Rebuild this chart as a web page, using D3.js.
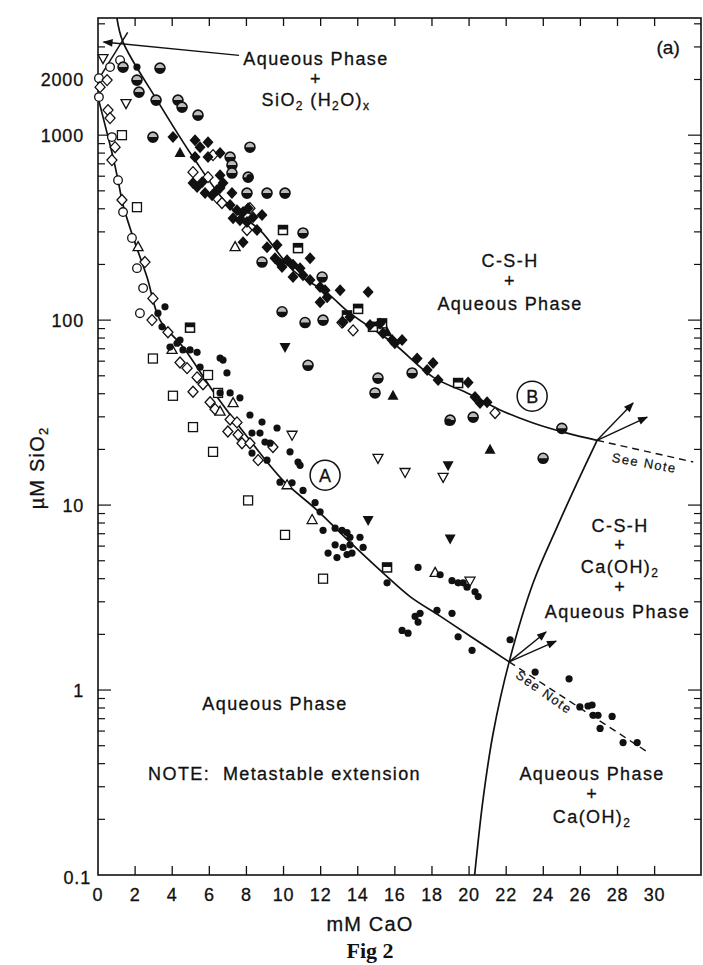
<!DOCTYPE html>
<html>
<head>
<meta charset="utf-8">
<script src="https://cdnjs.cloudflare.com/ajax/libs/d3/7.8.5/d3.min.js"></script>
<style>
body { margin: 0; background: #fff; }
text { font-family: "Liberation Sans", Arial, sans-serif; fill: #111; stroke: #111; stroke-width: 0.3px; }
</style>
</head>
<body>
<div id="chart"></div>
<script>
// phase boundaries, [mM CaO, uM SiO2]
const curveA = [[0, 1600], [0.49, 1026], [0.81, 761], [1.08, 571], [1.35, 419], [1.89, 281], [2.64, 171],
    [3.34, 100], [4.58, 71.5], [6.42, 38.4], [8.19, 22.4], [9.97, 13.6], [11.8, 9.4], [13.58, 6.3],
    [15.36, 4.3], [16.82, 3.2], [18.44, 2.51], [20.05, 1.96], [22.16, 1.42]];
const curveAext = [[22.16, 1.42], [29.65, 0.46]];
const curveB = [[1.02, 4295], [1.35, 3184], [3.18, 1547], [5.12, 761], [7.12, 408], [8.73, 307], [10.51, 186],
    [12.35, 140], [13.58, 109], [15.9, 75.2], [18.06, 49.2], [19.89, 40.4], [21.67, 32.7], [23.45, 27.8],
    [25.28, 24.5], [26.9, 22.4]];
const curveBext = [[26.9, 22.4], [32.08, 17.1]];
const curveCH = [[20.3, 0.1], [20.75, 0.255], [21.3, 0.586], [22.16, 1.42], [23.45, 3.79], [24.74, 7.6],
    [25.82, 13.2], [26.9, 22.4]];
const silicaLine = [[0, 1985], [1.6, 3600]];
const arrowsB = [[[26.9, 22.4], [28.84, 35.6]], [[26.9, 22.4], [29.6, 29.9]]];
const arrowsA = [[[22.16, 1.42], [24.15, 2.06]], [[22.16, 1.42], [24.69, 1.84]]];
const leader = [[7.6, 2700], [0.3, 3190]];

// measured points, by symbol
const dots = [[3.23, 109], [3.61, 118], [3.45, 92], [3.88, 71.5], [4.42, 78], [4.58, 69], [4.96, 69], [5.34, 67],
    [5.5, 55.7], [4.26, 75], [6.58, 62.4], [6.74, 60.8], [6.95, 51.8], [7.12, 40.4], [7.65, 38], [6.58, 40.4],
    [8.19, 30.7], [8.84, 28.1], [8.3, 24.5], [8.73, 24.5], [9.0, 21.9], [9.27, 21.6], [9.65, 26.1], [8.3, 19.1],
    [9.11, 17.5], [10.35, 19.4], [10.78, 17.1], [10.89, 16.4], [9.81, 13.3], [10.46, 13.2], [11.05, 12.0],
    [11.7, 10.3], [11.97, 9.2], [12.13, 7.3], [12.78, 7.5], [13.15, 7.3], [13.42, 7.1], [13.58, 6.7], [14.12, 6.7],
    [12.78, 6.1], [13.21, 5.9], [13.58, 6.1], [14.29, 5.9], [12.4, 5.5], [12.88, 5.2], [13.42, 5.4], [13.69, 5.5],
    [17.25, 4.6], [18.44, 4.2], [15.58, 3.8], [18.87, 28.1], [19.08, 3.9], [19.41, 3.8], [19.68, 3.8], [20.32, 3.4],
    [20.49, 3.2], [19.89, 3.6], [18.27, 2.7], [19.08, 2.6], [17.09, 2.5], [17.25, 2.33], [17.36, 2.6], [16.39, 2.1],
    [16.71, 2.03], [19.41, 1.94], [20.16, 1.64], [22.21, 1.87], [23.56, 1.25], [25.39, 1.15], [25.97, 0.81],
    [26.41, 0.82], [26.63, 0.83], [26.68, 0.73], [26.95, 0.73], [27.71, 0.72], [27.06, 0.62], [28.3, 0.52],
    [29.06, 0.52], [8.19, 590], [2.1, 2333]];
const halfCircles = [[1.35, 2333], [3.34, 2304], [2.1, 1985], [2.21, 1709], [3.13, 1547], [4.31, 1547], [4.53, 1418],
    [5.39, 1283], [2.96, 976], [7.12, 761], [7.22, 689], [7.22, 624], [8.09, 593], [8.03, 486], [9.11, 486],
    [10.08, 486], [11.05, 296], [8.84, 206], [12.08, 171], [9.92, 111], [11.16, 97], [12.13, 100], [11.32, 57],
    [15.09, 48.6], [14.93, 40.4], [16.93, 51.8], [18.98, 28.8], [20.22, 29.9], [23.99, 17.9], [25.0, 26], [8.19, 861]];
const filledDiamonds = [[5.12, 551], [6.58, 608], [6.74, 551], [6.58, 518], [5.77, 486], [6.15, 474], [7.22, 486],
    [7.12, 419], [7.49, 393], [7.82, 384], [8.09, 403], [7.28, 356], [7.65, 347], [8.03, 339], [8.36, 360],
    [8.84, 370], [8.57, 307], [7.82, 264], [9.11, 248], [9.65, 255], [9.54, 216], [9.81, 203], [10.19, 211],
    [11.43, 216], [9.92, 194], [10.51, 199], [10.89, 191], [10.51, 171], [11.05, 175], [11.43, 165], [11.97, 151],
    [12.24, 145], [12.35, 133], [11.97, 125], [13.05, 145], [14.56, 142], [13.21, 97.5], [13.58, 104], [14.66, 94],
    [15.2, 96], [15.36, 85], [15.85, 78], [16.39, 78], [16.0, 75], [17.2, 62], [18.06, 58.6], [17.74, 53.7],
    [18.33, 47.4], [19.95, 46], [20.32, 38.4], [20.59, 35.6], [20.97, 36], [5.93, 917], [6.58, 800], [5.23, 940],
    [5.5, 861], [4.04, 976], [5.61, 557], [5.34, 524], [6.42, 505], [5.23, 761], [5.93, 761]];
const openDiamonds = [[0.75, 733], [1.29, 446], [2.53, 206], [2.96, 131], [2.91, 100], [3.77, 86], [4.42, 59],
    [4.8, 55], [5.34, 49], [5.12, 41], [5.66, 45], [6.04, 36], [6.31, 33], [7.12, 29], [7.49, 28], [7.0, 25],
    [7.55, 24], [7.76, 21.6], [8.19, 21.6], [8.63, 17.5], [9.43, 20.6], [0.49, 1985], [0.54, 1366], [0.11, 1818],
    [0.65, 1237], [0.92, 861], [6.2, 780], [5.12, 631], [5.93, 593], [6.42, 457], [6.68, 430], [8.03, 307],
    [8.19, 403], [13.15, 97], [13.75, 88], [21.4, 31.5]];
const openCircles = [[1.08, 571], [1.35, 384], [1.83, 278], [2.1, 191], [2.43, 149], [2.26, 109], [0.05, 2034],
    [0.05, 1606], [0.75, 976], [0.65, 2333], [1.19, 2545]];
const openSquares = [[1.29, 1000], [2.1, 408], [2.96, 62], [4.04, 39], [5.12, 26.4], [6.2, 19.4], [8.09, 10.6],
    [10.08, 6.9], [12.13, 4.0], [5.93, 50.5], [6.47, 40.4]];
const dotSquares = [[4.96, 91], [9.97, 307], [10.78, 245], [13.42, 106], [14.02, 115], [14.82, 92], [15.31, 96],
    [15.58, 4.6], [19.41, 45.7]];
const openTriUp = [[2.16, 248], [3.99, 69], [7.39, 248], [7.28, 35.6], [10.19, 12.8], [11.54, 8.3], [18.17, 4.3], [6.58, 32]];
const filledTriUp = [[4.42, 800], [15.58, 86], [15.9, 39], [21.13, 19.9]];
const openTriDown = [[0.27, 2609], [1.51, 1490], [10.46, 24], [15.09, 18], [16.55, 15.1], [18.6, 14.2], [20.05, 3.9]];
const filledTriDown = [[10.08, 71.5], [18.87, 16.4], [14.56, 8.3], [18.98, 6.6]];

// axes
const xTicks = d3.range(0, 31, 2);
const yLabels = [0.1, 1, 10, 100, 1000, 2000];
const xDomain = [0, 32.5];
const yDomain = [0.1, 4300];

const width = 703, height = 965;
const ink = "#111";

const svg = d3.select("#chart").append("svg")
    .attr("width", width)
    .attr("height", height);

const x = d3.scaleLinear().domain(xDomain).range([98, 701]);
const y = d3.scaleLog().domain(yDomain).range([875, 18]);

const defs = svg.append("defs");
defs.append("marker")
    .attr("id", "arr")
    .attr("viewBox", "0 0 10 8")
    .attr("refX", 9).attr("refY", 4)
    .attr("markerWidth", 11).attr("markerHeight", 8)
    .attr("markerUnits", "userSpaceOnUse")
    .attr("orient", "auto")
    .append("path").attr("d", "M0,0L10,4L0,8Z").attr("fill", ink);

// frame
svg.append("rect")
    .attr("x", x(xDomain[0])).attr("y", y(yDomain[1]))
    .attr("width", x(xDomain[1]) - x(xDomain[0]))
    .attr("height", y(yDomain[0]) - y(yDomain[1]))
    .attr("fill", "none").attr("stroke", ink).attr("stroke-width", 1.6);

// x ticks, bottom and top, pointing in
svg.append("g").selectAll("line")
    .data(xTicks.filter(d => d > 0))
    .join("line")
    .attr("x1", d => x(d)).attr("x2", d => x(d))
    .attr("y1", y(yDomain[0])).attr("y2", y(yDomain[0]) - 9)
    .attr("stroke", ink).attr("stroke-width", 1.3);
svg.append("g").selectAll("line")
    .data(xTicks.filter(d => d > 0))
    .join("line")
    .attr("x1", d => x(d)).attr("x2", d => x(d))
    .attr("y1", y(yDomain[1])).attr("y2", y(yDomain[1]) + 8)
    .attr("stroke", ink).attr("stroke-width", 1.3);
svg.append("g").selectAll("text")
    .data(xTicks)
    .join("text")
    .attr("x", d => x(d)).attr("y", 901)
    .attr("text-anchor", "middle")
    .attr("font-size", 18).attr("letter-spacing", 0.8)
    .text(d => d);

// log ticks, left and right
let logTicks = [];
for (let dec = 0.1; dec <= 1000; dec *= 10) {
    for (let k = 1; k <= 9; k++) {
        const v = +(k * dec).toPrecision(3);
        if (v > yDomain[0] && v <= yDomain[1]) logTicks.push({ v: v, major: k === 1 });
    }
}
svg.append("g").selectAll("line")
    .data(logTicks)
    .join("line")
    .attr("x1", x(xDomain[0])).attr("x2", d => x(xDomain[0]) + (d.major ? 13 : 7))
    .attr("y1", d => y(d.v)).attr("y2", d => y(d.v))
    .attr("stroke", ink).attr("stroke-width", 1.2);
svg.append("g").selectAll("line")
    .data(logTicks)
    .join("line")
    .attr("x1", x(xDomain[1])).attr("x2", d => x(xDomain[1]) - (d.major ? 13 : 7))
    .attr("y1", d => y(d.v)).attr("y2", d => y(d.v))
    .attr("stroke", ink).attr("stroke-width", 1.2);
svg.append("g").selectAll("text")
    .data(yLabels)
    .join("text")
    .attr("x", d => d === 0.1 ? 91 : 84)
    .attr("y", d => y(d) + (d === 0.1 ? 9 : 7))
    .attr("text-anchor", "end")
    .attr("font-size", 18).attr("letter-spacing", 0.8)
    .text(d => d);

// writes "Ca(OH)_{2}" style strings with real subscripts
function richText(sel, str, subSize) {
    let shift = 0;
    str.split(/(_\{[^}]*\})/).filter(s => s.length).forEach(s => {
        if (s.startsWith("_{")) {
            sel.append("tspan").attr("font-size", subSize).attr("dy", 4 - shift).text(s.slice(2, -1));
            shift = 4;
        } else {
            sel.append("tspan").attr("dy", -shift).text(s);
            shift = 0;
        }
    });
}

// axis titles
svg.append("text")
    .attr("x", 370).attr("y", 931)
    .attr("text-anchor", "middle")
    .attr("font-size", 20).attr("letter-spacing", 1.2)
    .text("mM CaO");
const yt = svg.append("text")
    .attr("transform", "translate(44,468) rotate(-90)")
    .attr("text-anchor", "middle")
    .attr("font-size", 20).attr("letter-spacing", 1.2);
richText(yt, "\u00b5M SiO_{2}", 13);
svg.append("text")
    .attr("x", 370).attr("y", 958)
    .attr("text-anchor", "middle")
    .attr("font-size", 22).attr("font-weight", "bold")
    .style("font-family", "'Liberation Serif', 'Times New Roman', serif")
    .style("stroke", "none")
    .text("Fig 2");

// boundary lines
const line = d3.line()
    .x(d => x(d[0])).y(d => y(d[1]))
    .curve(d3.curveCatmullRom.alpha(0.5));
const straight = d3.line().x(d => x(d[0])).y(d => y(d[1]));
const lines = svg.append("g").attr("fill", "none").attr("stroke", ink);
[curveA, curveB, curveCH].forEach(c => lines.append("path").attr("d", line(c)).attr("stroke-width", 1.7));
lines.append("path").attr("d", straight(silicaLine)).attr("stroke-width", 1.5);
[curveAext, curveBext].forEach(c => lines.append("path").attr("d", straight(c))
    .attr("stroke-width", 1.4).attr("stroke-dasharray", "7,5"));
arrowsA.concat(arrowsB).forEach(c => lines.append("path").attr("d", straight(c))
    .attr("stroke-width", 1.4).attr("marker-end", "url(#arr)"));
lines.append("path").attr("d", straight(leader)).attr("stroke-width", 1.3).attr("marker-end", "url(#arr)");

// symbols
const shapes = {
    dot: g => g.append("circle").attr("r", 3.6).attr("fill", ink),
    half: g => {
        g.append("circle").attr("r", 5).attr("fill", "#bbb").attr("stroke", ink).attr("stroke-width", 1.6);
        g.append("path").attr("d", "M-5,0A5,5 0 0 0 5,0Z").attr("fill", ink);
    },
    diamondFill: g => g.append("path").attr("d", "M0,-6L5.5,0L0,6L-5.5,0Z").attr("fill", ink),
    diamondOpen: g => g.append("path").attr("d", "M0,-5.5L5,0L0,5.5L-5,0Z")
        .attr("fill", "#fff").attr("stroke", ink).attr("stroke-width", 1.3),
    circleOpen: g => g.append("circle").attr("r", 4.3)
        .attr("fill", "#fff").attr("stroke", ink).attr("stroke-width", 1.3),
    squareOpen: g => g.append("rect").attr("x", -4.5).attr("y", -4.5).attr("width", 9).attr("height", 9)
        .attr("fill", "#fff").attr("stroke", ink).attr("stroke-width", 1.3),
    squareDot: g => {
        g.append("rect").attr("x", -4.5).attr("y", -4.5).attr("width", 9).attr("height", 9)
            .attr("fill", "#fff").attr("stroke", ink).attr("stroke-width", 1.5);
        g.append("rect").attr("x", -4.5).attr("y", -4.5).attr("width", 9).attr("height", 4).attr("fill", ink);
    },
    triUpOpen: g => g.append("path").attr("d", "M0,-5.5L5,3.5L-5,3.5Z")
        .attr("fill", "#fff").attr("stroke", ink).attr("stroke-width", 1.3),
    triUpFill: g => g.append("path").attr("d", "M0,-6L5.5,4L-5.5,4Z").attr("fill", ink),
    triDownOpen: g => g.append("path").attr("d", "M0,5.5L5,-3.5L-5,-3.5Z")
        .attr("fill", "#fff").attr("stroke", ink).attr("stroke-width", 1.3),
    triDownFill: g => g.append("path").attr("d", "M0,6L5.5,-4L-5.5,-4Z").attr("fill", ink)
};

function plot(data, kind) {
    svg.append("g").selectAll("g")
        .data(data)
        .join("g")
        .attr("transform", d => `translate(${x(d[0])},${y(d[1])})`)
        .each(function () { shapes[kind](d3.select(this)); });
}
plot(openSquares, "squareOpen");
plot(openCircles, "circleOpen");
plot(openDiamonds, "diamondOpen");
plot(openTriUp, "triUpOpen");
plot(openTriDown, "triDownOpen");
plot(dotSquares, "squareDot");
plot(halfCircles, "half");
plot(filledDiamonds, "diamondFill");
plot(filledTriUp, "triUpFill");
plot(filledTriDown, "triDownFill");
plot(dots, "dot");

// circled curve names
const curveNames = [{ t: "A", at: [12.24, 14.5] }, { t: "B", at: [23.4, 38.8] }];
curveNames.forEach(c => {
    svg.append("circle").attr("cx", x(c.at[0])).attr("cy", y(c.at[1])).attr("r", 15)
        .attr("fill", "#fff").attr("stroke", ink).attr("stroke-width", 1.5);
    svg.append("text").attr("x", x(c.at[0])).attr("y", y(c.at[1]) + 6.5)
        .attr("text-anchor", "middle").attr("font-size", 18).text(c.t);
});

// region labels: [text, mM CaO, uM SiO2] for each line
const regionLabels = [
    ["Aqueous Phase", 11.75, 2393], ["+", 11.75, 1865], ["SiO_{2} (H_{2}O)_{x}", 11.75, 1436],
    ["C-S-H", 22.21, 194], ["+", 22.21, 151], ["Aqueous Phase", 22.21, 113],
    ["C-S-H", 28.14, 7.15], ["+", 28.14, 5.65], ["Ca(OH)_{2}", 28.14, 4.3], ["+", 28.14, 3.35], ["Aqueous Phase", 28.0, 2.45],
    ["Aqueous Phase", 9.54, 0.78],
    ["Aqueous Phase", 26.63, 0.327], ["+", 26.63, 0.255], ["Ca(OH)_{2}", 26.63, 0.191]
];
regionLabels.forEach(r => {
    const t = svg.append("text")
        .attr("x", x(r[1])).attr("y", y(r[2]))
        .attr("text-anchor", "middle")
        .attr("font-size", 18).attr("letter-spacing", 1.4);
    richText(t, r[0], 12);
});

svg.append("text")
    .attr("x", x(2.7)).attr("y", y(0.327))
    .attr("font-size", 18).attr("letter-spacing", 1.4)
    .attr("xml:space", "preserve")
    .text("NOTE:  Metastable extension");

svg.append("text")
    .attr("x", x(30.73)).attr("y", y(2750))
    .attr("text-anchor", "middle")
    .attr("font-size", 19)
    .text("(a)");

const notes = [{ at: [29.4, 16.0], rot: 10 }, { at: [23.9, 0.93], rot: 35 }];
notes.forEach(n => {
    svg.append("text")
        .attr("transform", `translate(${x(n.at[0])},${y(n.at[1])}) rotate(${n.rot})`)
        .attr("text-anchor", "middle")
        .attr("font-size", 13).attr("letter-spacing", 1.4)
        .style("stroke-width", "0.2px")
        .text("See Note");
});
</script>
</body>
</html>
